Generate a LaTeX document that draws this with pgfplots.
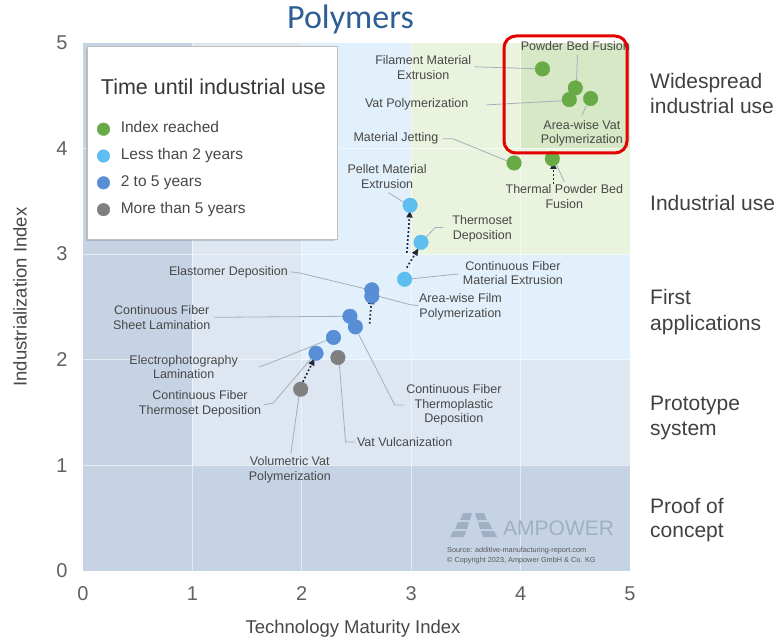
\documentclass[border=0pt]{standalone}
\usepackage{pgfplots}
\pgfplotsset{compat=1.18}
\usepackage{fontspec}
\setmainfont{Liberation Sans}
\newfontfamily\titlefont{Carlito}
\usetikzlibrary{arrows.meta,shadows}
\definecolor{cz0}{RGB}{197,211,228}
\definecolor{cz1}{RGB}{221,230,241}
\definecolor{cz2}{RGB}{225,240,251}
\definecolor{cz3}{RGB}{234,243,222}
\definecolor{cz4}{RGB}{214,232,197}
\definecolor{cgreen}{RGB}{104,170,70}
\definecolor{clblue}{RGB}{95,190,240}
\definecolor{cblue}{RGB}{88,142,214}
\definecolor{cgray}{RGB}{128,128,128}
\definecolor{lbltext}{RGB}{72,72,72}
\definecolor{leader}{RGB}{165,175,188}
\definecolor{titleblue}{RGB}{46,95,148}
\definecolor{ampower}{RGB}{160,176,196}
\definecolor{arrowc}{RGB}{30,40,55}
\tikzset{lbl/.style={font=\fontsize{12.5}{14.7}\selectfont, text=lbltext, align=center, inner sep=0pt}}

\pgfplotstableread{
x y
4.20 4.75
4.50 4.57
4.445 4.46
4.64 4.47
3.94 3.86
4.29 3.90
}\greendata
\pgfplotstableread{
x y
2.99 3.46
3.09 3.11
2.94 2.76
}\lbluedata
\pgfplotstableread{
x y
2.64 2.66
2.64 2.60
2.44 2.41
2.49 2.31
2.29 2.21
2.13 2.06
}\bluedata
\pgfplotstableread{
x y
2.33 2.02
1.99 1.72
}\graydata

\begin{document}
\begin{tikzpicture}
\useasboundingbox (-83pt,-67pt) rectangle (699pt,571pt);
\begin{axis}[
  at={(0pt,0pt)}, anchor=south west,
  width=547pt, height=528.5pt, scale only axis,
  xmin=0, xmax=5, ymin=0, ymax=5,
  xtick={0,1,2,3,4,5}, ytick={0,1,2,3,4,5},
  axis line style={draw=none},
  major tick length=0pt,
  clip=false,
  /pgf/number format/assume math mode=true,
  ticklabel style={font=\fontsize{20}{24}\selectfont, text=black!62},
  xticklabel style={yshift=-12pt},
  yticklabel style={xshift=-12pt},
  leaderl/.style={leader, line width=0.8pt, forget plot},
  arr/.style={arrowc, line width=1.7pt, dash pattern=on 1.7pt off 2.3pt, -{Latex[length=8pt,width=7pt]}, forget plot},
  legend style={at={(axis cs:0.128,4.25)}, anchor=north west, draw=none, fill=none,
    inner sep=0pt, row sep=12.3pt, font=\fontsize{15.5}{18}\selectfont, text=lbltext,
    nodes={inner sep=0pt, text depth=3.5pt, text height=11pt},
    /tikz/every odd column/.append style={column sep=11pt}},
  legend cell align=left,
  legend image code/.code={\draw[#1] plot coordinates {(0pt,0pt)};},
]
% background zones
\fill[cz0] (axis cs:0,0) rectangle (axis cs:5,5);
\fill[cz1] (axis cs:1,1) rectangle (axis cs:5,5);
\fill[cz2] (axis cs:2,2) rectangle (axis cs:5,5);
\fill[cz3] (axis cs:3,3) rectangle (axis cs:5,5);
\fill[cz4] (axis cs:4,4) rectangle (axis cs:5,5);
\draw[white, line width=0.8pt, opacity=0.55] (axis cs:1,0) -- (axis cs:1,5);
\draw[white, line width=0.8pt, opacity=0.55] (axis cs:2,0) -- (axis cs:2,5);
\draw[white, line width=0.8pt, opacity=0.55] (axis cs:3,0) -- (axis cs:3,5);
\draw[white, line width=0.8pt, opacity=0.55] (axis cs:4,0) -- (axis cs:4,5);
\draw[white, line width=0.8pt, opacity=0.55] (axis cs:0,1) -- (axis cs:5,1);
\draw[white, line width=0.8pt, opacity=0.55] (axis cs:0,2) -- (axis cs:5,2);
\draw[white, line width=0.8pt, opacity=0.55] (axis cs:0,3) -- (axis cs:5,3);
\draw[white, line width=0.8pt, opacity=0.55] (axis cs:0,4) -- (axis cs:5,4);
% legend box
\draw[black!25, fill=white, line width=0.6pt, drop shadow={shadow xshift=-1.5pt, shadow yshift=-2pt, opacity=0.35}]
  (axis cs:0.037,4.96) rectangle (axis cs:2.32,3.14);
\node[anchor=west, inner sep=0pt, font=\fontsize{21.5}{24}\selectfont, text=black!78] at (axis cs:0.162,4.58) {Time until industrial use};

% leader lines
\addplot[leaderl] coordinates {(3.58,4.77) (4.20,4.75)};
\addplot[leaderl] coordinates {(4.52,4.88) (4.51,4.60)};
\addplot[leaderl] coordinates {(3.69,4.41) (4.40,4.45)};
\addplot[leaderl] coordinates {(4.56,4.31) (4.60,4.40)};
\addplot[leaderl] coordinates {(3.29,4.09) (3.38,4.09) (3.90,3.87)};
\addplot[leaderl] coordinates {(4.40,3.68) (4.33,3.84)};
\addplot[leaderl] coordinates {(2.79,3.58) (2.96,3.47)};
\addplot[leaderl] coordinates {(3.29,3.25) (3.22,3.25) (3.11,3.13)};
\addplot[leaderl] coordinates {(3.43,2.81) (2.96,2.76)};
\addplot[leaderl] coordinates {(1.90,2.83) (1.98,2.82) (2.62,2.66)};
\addplot[leaderl] coordinates {(3.06,2.51) (2.99,2.52) (2.66,2.61)};
\addplot[leaderl] coordinates {(1.20,2.40) (2.42,2.41)};
\addplot[leaderl] coordinates {(1.61,1.93) (1.74,1.98) (2.27,2.20)};
\addplot[leaderl] coordinates {(1.65,1.57) (1.74,1.59) (2.11,2.04)};
\addplot[leaderl] coordinates {(2.93,1.57) (2.85,1.57) (2.49,2.30)};
\addplot[leaderl] coordinates {(2.49,1.22) (2.40,1.22) (2.34,2.00)};
\addplot[leaderl] coordinates {(1.90,1.11) (1.98,1.70)};

% points
\addplot[only marks, mark=*, mark size=7.3pt, mark options={draw=cgreen, fill=cgreen}, forget plot] table {\greendata};
\addplot[only marks, mark=*, mark size=7.3pt, mark options={draw=clblue, fill=clblue}, forget plot] table {\lbluedata};
\addplot[only marks, mark=*, mark size=7.3pt, mark options={draw=cblue, fill=cblue}, forget plot] table {\bluedata};
\addplot[only marks, mark=*, mark size=7.3pt, mark options={draw=cgray, fill=cgray}, forget plot] table {\graydata};

% arrows
\addplot[arr] coordinates {(2.01,1.79) (2.12,2.02)};
\addplot[arr] coordinates {(2.62,2.34) (2.64,2.60)};
\addplot[arr] coordinates {(2.96,2.87) (3.07,3.06)};
\addplot[arr] coordinates {(2.96,3.01) (2.99,3.42)};
\addplot[arr] coordinates {(4.30,3.66) (4.30,3.88)};

% labels
\node[lbl] at (axis cs:3.11,4.76) {Filament Material\\Extrusion};
\node[lbl] at (axis cs:4.50,4.97) {Powder Bed Fusion};
\node[lbl] at (axis cs:3.05,4.42) {Vat Polymerization};
\node[lbl] at (axis cs:4.56,4.14) {Area-wise Vat\\Polymerization};
\node[lbl] at (axis cs:2.86,4.09) {Material Jetting};
\node[lbl] at (axis cs:4.40,3.54) {Thermal Powder Bed\\Fusion};
\node[lbl] at (axis cs:2.78,3.73) {Pellet Material\\Extrusion};
\node[lbl] at (axis cs:3.65,3.24) {Thermoset\\Deposition};
\node[lbl] at (axis cs:3.93,2.82) {Continuous Fiber\\Material Extrusion};
\node[lbl] at (axis cs:1.33,2.83) {Elastomer Deposition};
\node[lbl] at (axis cs:3.45,2.50) {Area-wise Film\\Polymerization};
\node[lbl] at (axis cs:0.72,2.40) {Continuous Fiber\\Sheet Lamination};
\node[lbl] at (axis cs:0.92,1.93) {Electrophotography\\Lamination};
\node[lbl] at (axis cs:1.07,1.58) {Continuous Fiber\\Thermoset Deposition};
\node[lbl] at (axis cs:3.39,1.57) {Continuous Fiber\\Thermoplastic\\Deposition};
\node[lbl] at (axis cs:2.94,1.22) {Vat Vulcanization};
\node[lbl] at (axis cs:1.89,0.96) {Volumetric Vat\\Polymerization};

% legend
\addlegendimage{only marks, mark=*, mark size=6.3pt, mark options={draw=cgreen, fill=cgreen}}
\addlegendentry{Index reached}
\addlegendimage{only marks, mark=*, mark size=6.3pt, mark options={draw=clblue, fill=clblue}}
\addlegendentry{Less than 2 years}
\addlegendimage{only marks, mark=*, mark size=6.3pt, mark options={draw=cblue, fill=cblue}}
\addlegendentry{2 to 5 years}
\addlegendimage{only marks, mark=*, mark size=6.3pt, mark options={draw=cgray, fill=cgray}}
\addlegendentry{More than 5 years}
\end{axis}

% red highlight box
\draw[red!90!black, line width=3pt, rounded corners=12pt] (421pt,535pt) rectangle (544pt,418pt);

% title
\node[anchor=base, inner sep=0pt, font=\titlefont\fontsize{34}{40}\selectfont, text=titleblue] at (267.5pt,542pt) {Polymers};

% axis labels
\node[anchor=base, inner sep=0pt, font=\fontsize{18.5}{22}\selectfont, text=black!72] at (270pt,-62pt) {Technology Maturity Index};
\node[rotate=90, inner sep=0pt, font=\fontsize{18.5}{22}\selectfont, text=black!72] at (-63pt,274pt) {Industrialization Index};

% right-hand stage labels
\begin{scope}[every node/.style={anchor=base west, inner sep=0pt, font=\fontsize{21}{25}\selectfont, text=black!75}]
\node at (567pt,482pt) {Widespread};
\node at (567pt,457pt) {industrial use};
\node at (567pt,360pt) {Industrial use};
\node at (567pt,266pt) {First};
\node at (567pt,241pt) {applications};
\node at (567pt,161pt) {Prototype};
\node at (567pt,136pt) {system};
\node at (567pt,58pt) {Proof of};
\node at (567pt,34pt) {concept};
\end{scope}

% watermark
\fill[ampower] (377pt,51pt) -- (380pt,58pt) -- (389pt,58pt) -- (387pt,51pt) -- cycle;
\fill[ampower] (392pt,58pt) -- (401pt,58pt) -- (404pt,51pt) -- (394pt,51pt) -- cycle;
\fill[ampower] (372pt,42pt) -- (375pt,49pt) -- (386pt,49pt) -- (384pt,42pt) -- cycle;
\fill[ampower] (395pt,49pt) -- (406pt,49pt) -- (409pt,42pt) -- (397pt,42pt) -- cycle;
\fill[ampower] (367pt,34pt) -- (370pt,40pt) -- (383pt,40pt) -- (381pt,34pt) -- cycle;
\fill[ampower] (398pt,40pt) -- (411pt,40pt) -- (414pt,34pt) -- (400pt,34pt) -- cycle;
\node[anchor=base west, inner sep=0pt, font=\fontsize{21}{24}\selectfont, text=ampower] at (420pt,36pt) {AMPOWER};
\node[anchor=base west, inner sep=0pt, font=\fontsize{7.3}{9}\selectfont, text=black!65] at (364pt,19pt) {Source: additive-manufacturing-report.com};
\node[anchor=base west, inner sep=0pt, font=\fontsize{7.3}{9}\selectfont, text=black!65] at (364pt,9pt) {\textcopyright{} Copyright 2023, Ampower GmbH \& Co. KG};
\end{tikzpicture}
\end{document}
